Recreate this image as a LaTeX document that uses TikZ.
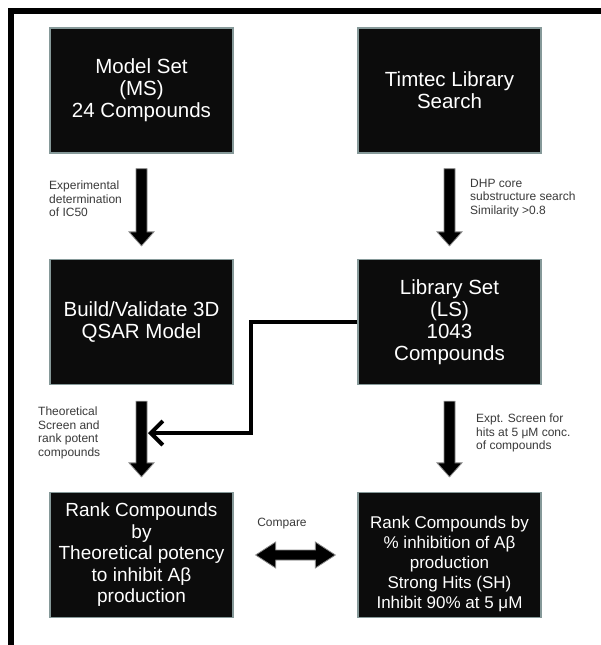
\documentclass[tikz,border=0pt]{standalone}
\usepackage{fontspec}
\setmainfont{Liberation Sans}
\usetikzlibrary{arrows.meta,calc}
\definecolor{boxfill}{HTML}{0C0C0C}
\definecolor{boxedge}{HTML}{869999}
\definecolor{labelgray}{HTML}{3A3A3A}
\definecolor{arrowedge}{HTML}{8A8A8A}
\tikzset{
  box/.style={draw=boxedge, line width=1.3pt, fill=boxfill, text=white,
    minimum width=183pt, minimum height=125pt, inner sep=0pt, align=center,
    font=\fontsize{20.5}{22}\selectfont},
  boxmid/.style={box, font=\fontsize{19}{21.5}\selectfont},
  boxtext/.style={text=white, inner sep=0pt, align=center, font=\fontsize{17}{20}\selectfont},
  lbl/.style={anchor=north west, inner sep=0pt, align=left, text=labelgray,
    font=\fontsize{12}{13.5}\selectfont},
  blockarrow/.style={fill=black, draw=arrowedge, line width=0.8pt, line join=miter},
  elbow/.style={draw=black, line width=4pt, line join=miter,
    -{Straight Barb[length=12pt,width=24pt]}},
}
\begin{document}
\begin{tikzpicture}[x=1pt,y=-1pt]
\path[use as bounding box, fill=white] (0,0) rectangle (601,645);
% frame
\fill[black] (8,8) rectangle (601,14);
\fill[black] (8,8) rectangle (14,645);

% boxes
\node[box] (b1) at (141.5,90.5) {Model Set\\(MS)\\24 Compounds};
\node[box] (b2) at (449.5,90.5) {Timtec Library\\Search};
\node[box] (b3) at (141.5,322) {Build/Validate 3D\\QSAR Model};
\node[box] (b4) at (449.5,322) {Library Set\\(LS)\\1043\\Compounds};
\node[boxmid] (b5) at (141.5,555) {Rank Compounds\\by\\Theoretical potency\\to inhibit Aβ\\production};
\node[box] (b6) at (449.5,555) {};
\node[boxtext] (t6) at ([yshift=-9pt]b6.center) {Rank Compounds by\\\% inhibition of Aβ\\production\\Strong Hits (SH)\\Inhibit 90\% at 5 μM};

% vertical block arrows
\coordinate (a1s) at ([yshift=-15pt]b1.south);
\coordinate (a1e) at ([yshift=13pt]b3.north);
\coordinate (a2s) at ([yshift=-15pt]b2.south);
\coordinate (a2e) at ([yshift=13pt]b4.north);
\coordinate (a3s) at ([yshift=-16pt]b3.south);
\coordinate (a3e) at ([yshift=15pt]b5.north);
\coordinate (a4s) at ([yshift=-16pt]b4.south);
\coordinate (a4e) at ([yshift=15pt]b6.north);
\foreach \s/\e in {a1s/a1e, a2s/a2e, a3s/a3e, a4s/a4e}{
  \filldraw[blockarrow] let \p1=(\s), \p2=(\e) in
    (\x1-5.5pt,\y1) -- (\x1+5.5pt,\y1) -- (\x1+5.5pt,\y2+14pt) -- (\x1+12.5pt,\y2+14pt)
    -- (\x1,\y2) -- (\x1-12.5pt,\y2+14pt) -- (\x1-5.5pt,\y2+14pt) -- cycle;
}

% elbow connector from LS to the left arrow
\coordinate (hit) at (148,433);
\draw[elbow] (b4.west) -- ++(-106pt,0) |- (hit);

% double arrow Compare
\coordinate (c1) at ([xshift=22pt]b5.east);
\coordinate (c2) at ([xshift=-22pt]b6.west);
\filldraw[blockarrow] let \p1=(c1), \p2=(c2) in
  (\x1,\y1) -- (\x1+20pt,\y1+13pt) -- (\x1+20pt,\y1+5pt) -- (\x2-20pt,\y1+5pt)
  -- (\x2-20pt,\y1+13pt) -- (\x2,\y1) -- (\x2-20pt,\y1-13pt) -- (\x2-20pt,\y1-5pt)
  -- (\x1+20pt,\y1-5pt) -- (\x1+20pt,\y1-13pt) -- cycle;
\node[lbl, anchor=center] (cmp) at (282,524) {Compare};

% side labels
\node[lbl] (l1) at (49,181) {Experimental\\determination\\of IC50};
\node[lbl] (l2) at (470,179) {DHP core\\substructure search\\Similarity >0.8};
\node[lbl] (l3) at (38,407) {Theoretical\\Screen and\\rank potent\\compounds};
\node[lbl] (l4) at (476,414) {Expt. Screen for\\hits at 5 μM conc.\\of compounds};
\end{tikzpicture}
\end{document}
